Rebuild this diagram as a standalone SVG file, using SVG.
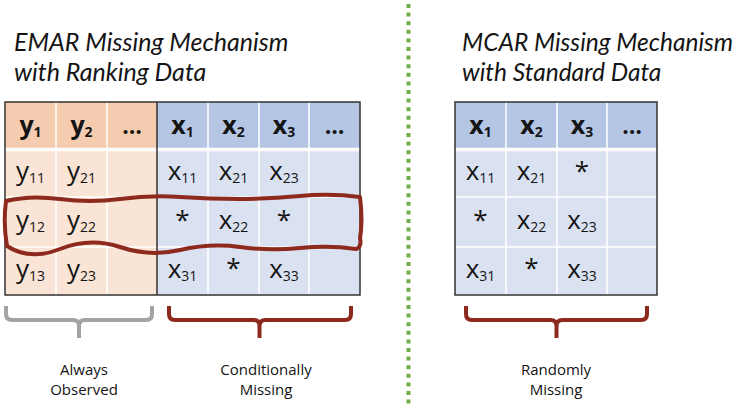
<svg xmlns="http://www.w3.org/2000/svg" width="744" height="405" viewBox="0 0 744 405">
<style>
text{font-family:"Open Sans","Liberation Sans",sans-serif;fill:#141414}
.title{font-family:Lato,"Liberation Sans",sans-serif;font-size:25px;font-style:italic}
.t2{font-size:24.5px}
.lbl{font-size:15px;text-anchor:middle}
.c{font-size:26px;text-anchor:middle}
.h{font-size:25px;font-weight:bold;text-anchor:middle}
.s{font-size:14px}
.e{font-size:23px}
.oh{fill:#F5CCAF}.ob{fill:#F9E4D6}.bh{fill:#B5C6E5}.bb{fill:#DAE1F0}
.gw{stroke:#fff;stroke-width:1.5;fill:none}
.gs{stroke:#fff;stroke-width:3.5;fill:none}
.bd{stroke:#333;stroke-width:1.5;fill:none}
.brace{fill:none;stroke-width:4;stroke-linejoin:round}
.red{stroke:#8E2A1D}.gray{stroke:#A3A3A3}
</style>
<g id="divider"><line x1="408.5" y1="4" x2="408.5" y2="405" stroke="#70AD47" stroke-width="4" stroke-dasharray="4 4.6"/></g>
<g id="title-emar">
<text class="title" x="14" y="50.5">EMAR Missing Mechanism</text>
<text class="title" x="14" y="80.5">with Ranking Data</text>
</g>
<g id="title-mcar">
<text class="title t2" x="462" y="50.5">MCAR Missing Mechanism</text>
<text class="title t2" x="462" y="80.5">with Standard Data</text>
</g>
<g id="table-emar">
<rect class="oh" x="5" y="102" width="152" height="47"/>
<rect class="ob" x="5" y="149" width="152" height="146"/>
<rect class="bh" x="157" y="102" width="203" height="47"/>
<rect class="bb" x="157" y="149" width="203" height="146"/>
<path class="gw" d="M56,102V295M107,102V295M208,102V295M259,102V295M309,102V295M5,197H360M5,247H360"/>
<path class="gs" d="M5,149.5H360"/>
<path class="bd" d="M157,102V295"/>
<rect class="bd" x="5" y="102" width="355" height="193"/>
<text class="h" x="30.5" y="133.5">y<tspan class="s" dy="3.5">1</tspan></text>
<text class="h" x="81.5" y="133.5">y<tspan class="s" dy="3.5">2</tspan></text>
<text class="h e" x="132" y="133.5">…</text>
<text class="h" x="182.5" y="133.5">x<tspan class="s" dy="3.5">1</tspan></text>
<text class="h" x="233.5" y="133.5">x<tspan class="s" dy="3.5">2</tspan></text>
<text class="h" x="284" y="133.5">x<tspan class="s" dy="3.5">3</tspan></text>
<text class="h e" x="334.5" y="133.5">…</text>
<text class="c" x="30.5" y="180">y<tspan class="s" dy="3">11</tspan></text>
<text class="c" x="81.5" y="180">y<tspan class="s" dy="3">21</tspan></text>
<text class="c" x="182.5" y="180">x<tspan class="s" dy="3">11</tspan></text>
<text class="c" x="233.5" y="180">x<tspan class="s" dy="3">21</tspan></text>
<text class="c" x="284" y="180">x<tspan class="s" dy="3">23</tspan></text>
<text class="c" x="30.5" y="229">y<tspan class="s" dy="3">12</tspan></text>
<text class="c" x="81.5" y="229">y<tspan class="s" dy="3">22</tspan></text>
<text class="c" x="182.5" y="229">*</text>
<text class="c" x="233.5" y="229">x<tspan class="s" dy="3">22</tspan></text>
<text class="c" x="284" y="229">*</text>
<text class="c" x="30.5" y="278">y<tspan class="s" dy="3">13</tspan></text>
<text class="c" x="81.5" y="278">y<tspan class="s" dy="3">23</tspan></text>
<text class="c" x="182.5" y="278">x<tspan class="s" dy="3">31</tspan></text>
<text class="c" x="233.5" y="277">*</text>
<text class="c" x="284" y="278">x<tspan class="s" dy="3">33</tspan></text>
</g>
<g id="highlight">
<path fill="none" stroke="#8E2A1D" stroke-width="4" stroke-linejoin="round" d="M6,201 Q30,195 60,199 T120,199 T180,197 T240,199 T300,196 T360,197 Q363,222 360,238 Q362,247 356,249 Q330,245 300,248 T240,247 T180,250 T120,247 T60,249 T7,246 Q3,224 6,201 Z"/>
</g>
<g id="table-mcar">
<rect class="bh" x="455" y="102" width="202" height="47"/>
<rect class="bb" x="455" y="149" width="202" height="146"/>
<path class="gw" d="M506,102V295M557,102V295M607,102V295M455,197H657M455,247H657"/>
<path class="gs" d="M455,149.5H657"/>
<rect class="bd" x="455" y="102" width="202" height="193"/>
<text class="h" x="480.5" y="133.5">x<tspan class="s" dy="3.5">1</tspan></text>
<text class="h" x="531.5" y="133.5">x<tspan class="s" dy="3.5">2</tspan></text>
<text class="h" x="582" y="133.5">x<tspan class="s" dy="3.5">3</tspan></text>
<text class="h e" x="632" y="133.5">…</text>
<text class="c" x="480.5" y="180">x<tspan class="s" dy="3">11</tspan></text>
<text class="c" x="531.5" y="180">x<tspan class="s" dy="3">21</tspan></text>
<text class="c" x="582" y="180">*</text>
<text class="c" x="480.5" y="229">*</text>
<text class="c" x="531.5" y="229">x<tspan class="s" dy="3">22</tspan></text>
<text class="c" x="582" y="229">x<tspan class="s" dy="3">23</tspan></text>
<text class="c" x="480.5" y="278">x<tspan class="s" dy="3">31</tspan></text>
<text class="c" x="531.5" y="277">*</text>
<text class="c" x="582" y="278">x<tspan class="s" dy="3">33</tspan></text>
</g>
<g id="connectors">
<path id="brace-observed" class="brace gray" d="M6,306V314Q6,320 12,320H73Q79,320 79,326V338M152,306V314Q152,320 146,320H85Q79,320 79,326"/>
<path id="brace-conditional" class="brace red" d="M169,306V314Q169,320 175,320H253.5Q259.5,320 259.5,326V338M351,306V314Q351,320 345,320H265.5Q259.5,320 259.5,326"/>
<path id="brace-random" class="brace red" d="M466,306V314Q466,320 472,320H550.5Q556.5,320 556.5,326V338M647,306V314Q647,320 641,320H562.5Q556.5,320 556.5,326"/>
</g>
<g id="label-observed"><text class="lbl" x="84" y="375">Always</text><text class="lbl" x="84" y="395">Observed</text></g>
<g id="label-conditional"><text class="lbl" x="266" y="375">Conditionally</text><text class="lbl" x="266" y="395">Missing</text></g>
<g id="label-random"><text class="lbl" x="556" y="375">Randomly</text><text class="lbl" x="556" y="395">Missing</text></g>
</svg>
